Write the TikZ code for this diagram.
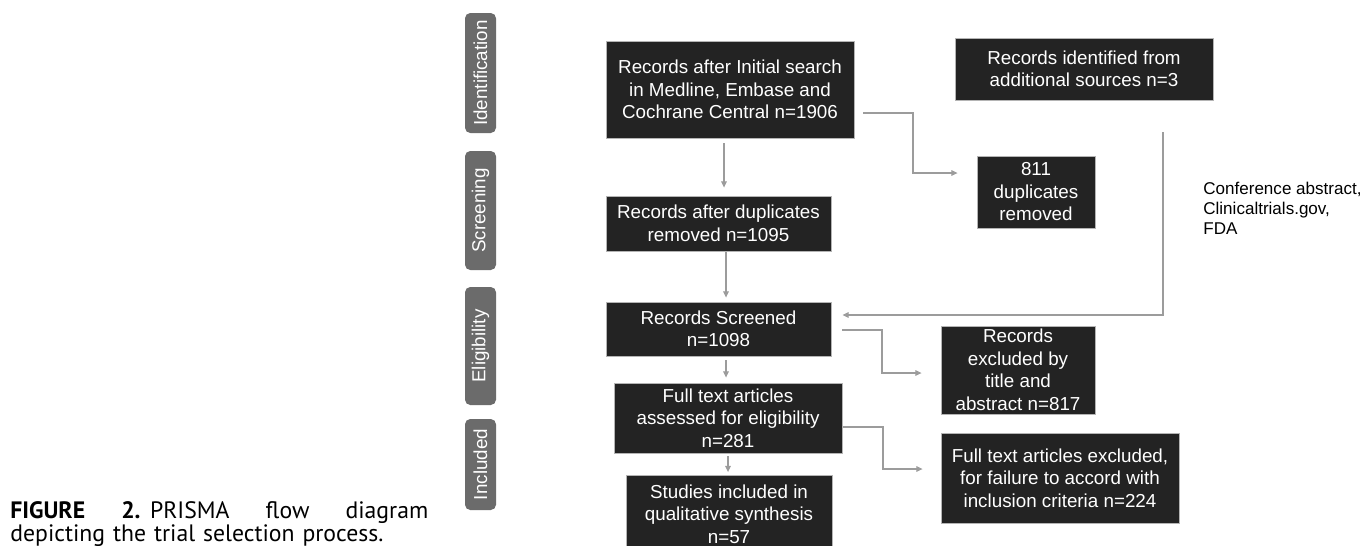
\documentclass[tikz,border=0pt]{standalone}
\usepackage{fontspec}
\setmainfont{Liberation Sans}
\newfontfamily\capfont{PT Sans}
\usetikzlibrary{arrows.meta, calc, positioning}
\definecolor{boxfill}{HTML}{232323}
\definecolor{boxline}{HTML}{B4B4B4}
\definecolor{phasegray}{HTML}{6B6B6B}
\definecolor{linkgray}{HTML}{9C9C9C}

\begin{document}
\begin{tikzpicture}[
    every node/.style={font=\fontsize{10.7}{12.8}\selectfont},
    stagebox/.style={draw=boxline, line width=0.5pt, fill=boxfill, text=white, align=center, inner sep=1pt},
    phase/.style={fill=phasegray, text=white, rounded corners=3pt, rotate=90, minimum height=0.62cm, inner sep=0pt},
    link/.style={draw=linkgray, line width=0.6pt, -{Triangle[length=3.5pt,width=3.2pt]}}
  ]
  \useasboundingbox (0,0) rectangle (27.28,-10.9);
  % phases on the left
  \node[phase, minimum width=2.4cm]  (ident)  at (9.61,-1.46) {Identification};
  \node[phase, minimum width=2.38cm] (screen) at (9.61,-4.21) {Screening};
  \node[phase, minimum width=2.36cm] (elig)   at (9.61,-6.92) {Eligibility};
  \node[phase, minimum width=1.82cm] (incl)   at (9.61,-9.29) {Included};
  % main column
  \node[stagebox, minimum width=4.96cm, minimum height=1.94cm] (init) at (14.6,-1.79)
    {Records after Initial search\\in Medline, Embase and\\Cochrane Central n=1906};
  \node[stagebox, minimum width=4.5cm, minimum height=1.1cm] (dup) at (14.37,-4.47)
    {Records after duplicates\\removed n=1095};
  \node[stagebox, minimum width=4.5cm, minimum height=1.08cm] (scr) at (14.37,-6.58)
    {Records Screened\\n=1098};
  \node[stagebox, minimum width=4.56cm, minimum height=1.4cm] (full) at (14.56,-8.36)
    {Full text articles\\assessed for eligibility\\n=281};
  \node[stagebox, minimum width=4.12cm, minimum height=1.54cm] (stud) at (14.58,-10.28)
    {Studies included in\\qualitative synthesis\\n=57};
  % side column
  \node[stagebox, minimum width=5.16cm, minimum height=1.24cm] (addl) at (21.68,-1.38)
    {Records identified from\\additional sources n=3};
  \node[stagebox, minimum width=2.36cm, minimum height=1.44cm] (d811) at (20.72,-3.84)
    {811\\duplicates\\removed};
  \node[stagebox, minimum width=3.08cm, minimum height=1.76cm] (x817) at (20.36,-7.4)
    {Records\\excluded by\\title and\\abstract n=817};
  \node[stagebox, minimum width=4.76cm, minimum height=1.8cm] (x224) at (21.2,-9.56)
    {Full text articles excluded,\\for failure to accord with\\inclusion criteria n=224};
  \node[anchor=north west, align=left, inner sep=0pt, font=\fontsize{9.7}{11.3}\selectfont] (srcs) at (24.06,-3.64)
    {Conference abstract,\\Clinicaltrials.gov,\\FDA};
  % caption
  \node[anchor=north west, align=left, inner sep=0pt, text width=8.36cm,
        font=\capfont\fontsize{13.5}{13.4}\selectfont] (cap) at (0.2,-10.02)
    {\leavevmode\hbox to 8.36cm{\textbf{FIGURE}\hfill\textbf{2.}\hspace{0.4em}PRISMA\hfill flow\hfill diagram}\\
     depicting the trial selection process.};
  % bend points
  \coordinate (k1) at (18.26,-3.46);
  \coordinate (k2) at (17.64,-7.46);
  \coordinate (k3) at (17.66,-9.38);
  % connectors
  \draw[link, shorten <=0.1cm, shorten >=0.16cm] ([xshift=-0.12cm]init.south) -- ([xshift=-0.12cm]init.south |- dup.north);
  \draw[link, shorten <=0.18cm] ([yshift=-0.47cm]init.east) -| (k1) -- ([xshift=-0.38cm]k1 -| d811.west);
  \draw[link, shorten <=0.64cm, shorten >=0.22cm] ([xshift=1.58cm]addl.south) |- ([yshift=0.28cm]scr.east);
  \draw[link, shorten <=0.02cm, shorten >=0.08cm] ([xshift=0.15cm]dup.south) -- ([xshift=0.15cm]dup.south |- scr.north);
  \draw[link, shorten <=0.22cm] ([yshift=-0.02cm]scr.east) -| (k2) -- ([xshift=-0.38cm]k2 -| x817.west);
  \draw[link, shorten <=0.08cm, shorten >=0.1cm] ([xshift=0.15cm]scr.south) -- ([xshift=0.15cm]scr.south |- full.north);
  \draw[link, shorten <=0.02cm] ([yshift=-0.18cm]full.east) -| (k3) -- ([xshift=-0.36cm]k3 -| x224.west);
  \draw[link, shorten <=0.06cm, shorten >=0.06cm] (full.south) -- (full.south |- stud.north);
\end{tikzpicture}
\end{document}
